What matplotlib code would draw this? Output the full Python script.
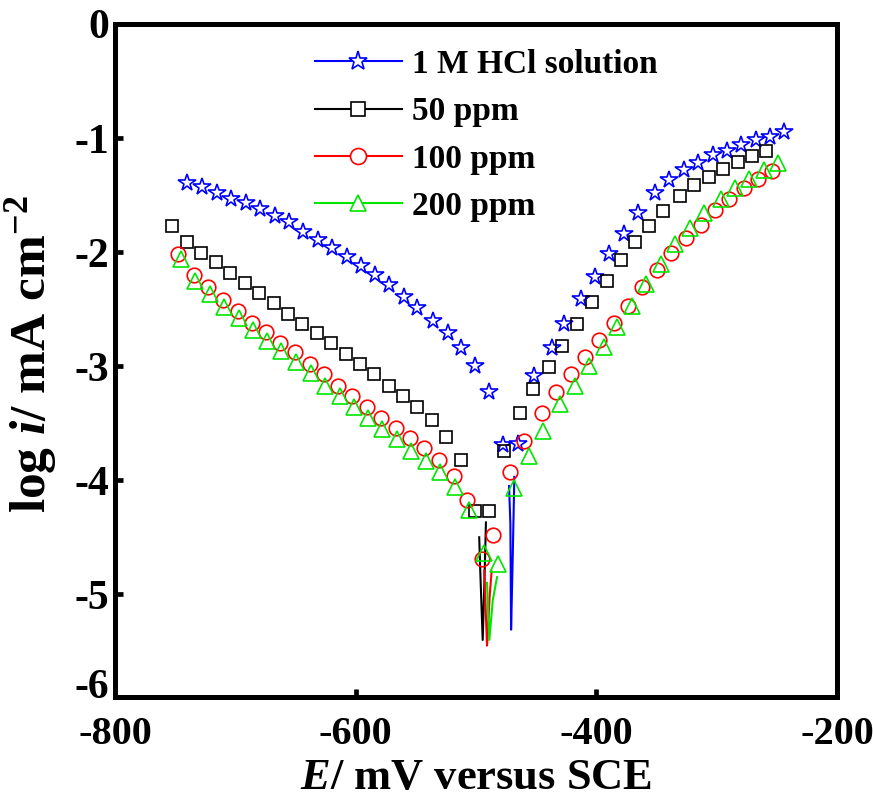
import matplotlib
matplotlib.use('Agg')
import matplotlib.pyplot as plt
from matplotlib.lines import Line2D
from matplotlib.transforms import blended_transform_factory

plt.rcParams['font.family'] = ['Liberation Serif', 'DejaVu Serif']
plt.rcParams['font.weight'] = 'bold'
plt.rcParams['axes.unicode_minus'] = False
plt.rcParams['mathtext.fontset'] = 'custom'
plt.rcParams['mathtext.rm'] = 'Liberation Serif:bold'
plt.rcParams['mathtext.it'] = 'Liberation Serif:italic:bold'
plt.rcParams['mathtext.bf'] = 'Liberation Serif:bold'

# ---------------- data ----------------
labels = ['1 M HCl solution', '50 ppm', '100 ppm', '200 ppm']

E_hcl = [-740.3, -727.3, -715.3, -703.3, -691.1, -679.2, -667.3, -655.6, -643.6, -631.4,
         -619.4, -607.5, -595.3, -583.6, -572.3, -559.8, -548.6, -535.6, -523.6, -512.5,
         -500.8, -488.9, -477.8,
         -465.3, -451.4, -436.4, -427.2, -413.1, -401.4, -389.4, -377.3, -365.3, -351.4,
         -339.4, -327.3, -315.3, -303.3, -291.1, -279.8, -267.5, -255.6, -243.6]
logi_hcl = [-1.39, -1.43, -1.48, -1.53, -1.57, -1.62, -1.68, -1.74, -1.82, -1.89,
            -1.96, -2.04, -2.12, -2.20, -2.29, -2.39, -2.49, -2.60, -2.71, -2.84,
            -3.00, -3.23, -3.69,
            -3.68, -3.09, -2.84, -2.63, -2.41, -2.22, -2.02, -1.84, -1.66, -1.48,
            -1.37, -1.28, -1.22, -1.15, -1.11, -1.06, -1.02, -0.99, -0.95]

E_50 = [-752.8, -740.3, -728.1, -716.1, -704.2, -692.3, -680.6, -668.1, -656.4, -644.4,
        -632.3, -620.3, -608.3, -596.4, -584.4, -572.3, -560.6, -548.6, -536.7, -525.0,
        -512.5, -500.6, -488.9,
        -476.4, -463.3, -452.3, -438.9, -428.3, -416.1, -403.6, -391.4, -379.2, -367.5,
        -356.1, -344.4, -330.6, -318.6, -306.4, -294.4, -282.5, -270.8, -258.9]
logi_50 = [-1.77, -1.91, -2.01, -2.09, -2.18, -2.27, -2.36, -2.45, -2.54, -2.63,
           -2.71, -2.80, -2.89, -2.98, -3.07, -3.17, -3.26, -3.36, -3.47, -3.62,
           -3.82, -4.27, -4.27,
           -3.74, -3.41, -3.20, -3.01, -2.82, -2.63, -2.44, -2.25, -2.07, -1.91,
           -1.77, -1.64, -1.51, -1.41, -1.34, -1.27, -1.21, -1.16, -1.11]

E_100 = [-747.3, -734.2, -722.3, -710.3, -698.1, -686.1, -674.2, -662.5, -650.6, -638.3,
         -626.4, -614.4, -602.8, -590.8, -578.6, -566.7, -555.0, -543.1, -531.1, -518.6,
         -507.1, -495.0, -486.1,
         -471.4, -459.8, -445.3, -433.3, -421.4, -409.2, -397.8, -385.6, -373.6, -361.7,
         -349.4, -337.5, -325.6, -313.3, -301.4, -289.4, -277.3, -265.3, -253.6]
logi_100 = [-2.02, -2.20, -2.31, -2.42, -2.52, -2.62, -2.70, -2.80, -2.88, -2.98,
            -3.07, -3.17, -3.26, -3.36, -3.45, -3.54, -3.63, -3.72, -3.82, -3.96,
            -4.17, -4.69, -4.48,
            -3.93, -3.66, -3.41, -3.23, -3.07, -2.92, -2.77, -2.62, -2.47, -2.31,
            -2.16, -2.01, -1.88, -1.76, -1.63, -1.53, -1.44, -1.36, -1.29]

E_200 = [-745.3, -733.3, -721.4, -709.8, -697.3, -685.6, -673.6, -661.7, -649.4, -637.5,
         -625.6, -613.3, -601.4, -589.8, -577.8, -565.8, -554.2, -541.7, -530.0, -517.5,
         -506.1, -493.6, -481.9,
         -468.1, -455.6, -443.9, -430.0, -418.1, -406.1, -393.9, -382.5, -370.3, -358.3,
         -346.4, -334.7, -322.2, -310.6, -296.7, -284.7, -272.7, -260.6, -248.6]
logi_200 = [-2.06, -2.25, -2.37, -2.48, -2.58, -2.68, -2.78, -2.87, -2.96, -3.06,
            -3.17, -3.26, -3.36, -3.45, -3.55, -3.64, -3.74, -3.83, -3.93, -4.06,
            -4.26, -4.64, -4.73,
            -4.07, -3.79, -3.57, -3.33, -3.17, -3.00, -2.83, -2.66, -2.47, -2.28,
            -2.10, -1.93, -1.79, -1.66, -1.53, -1.44, -1.36, -1.28, -1.22]

# thin curve segments visible around the corrosion potential
E_hcl_ecorr = [-472.5, -471.4, -470.8, -469.5, -468.1]
logi_hcl_ecorr = [-4.05, -4.38, -5.31, -4.70, -3.97]
E_50_ecorr = [-497.3, -496.5, -494.4, -493.0, -491.7]
logi_50_ecorr = [-4.50, -4.77, -5.40, -4.90, -4.37]
E_100_ecorr = [-493.1, -490.8, -488.5, -487.0]
logi_100_ecorr = [-4.79, -5.45, -5.00, -4.80]
E_200_ecorr = [-490.8, -488.9, -486.0, -482.5]
logi_200_ecorr = [-4.90, -5.40, -5.05, -4.85]

x_ticks = [-800, -600, -400, -200]
y_ticks = [-5, -4, -3, -2, -1, 0]

# ---------------- figure ----------------
fig = plt.figure(figsize=(8.73, 8.05), dpi=100)
ax = fig.add_axes([0.1317, 0.1342, 0.827, 0.836])

styles = [
    (E_hcl, logi_hcl, E_hcl_ecorr, logi_hcl_ecorr, '#0000FF', '*', 13),
    (E_50, logi_50, E_50_ecorr, logi_50_ecorr, '#000000', 's', 9),
    (E_100, logi_100, E_100_ecorr, logi_100_ecorr, '#FF0000', 'o', 10.5),
    (E_200, logi_200, E_200_ecorr, logi_200_ecorr, '#00E600', '^', 11),
]

handles = []
for (E, L, Es, Ls, c, m, ms), lab in zip(styles, labels):
    ax.plot(Es, Ls, color=c, lw=1.5, zorder=2)
    ax.plot(E, L, ls='none', marker=m, ms=ms, mfc='none', mec=c, mew=1.2, zorder=3)
    handles.append(Line2D([], [], color=c, lw=1.5, marker=m, ms=ms + 1,
                          mfc='white', mec=c, mew=1.2))

ax.set_xlim(-800, -200)
ax.set_ylim(-5.9, 0)
ax.set_xticks(x_ticks)
ax.set_xticklabels([str(v) for v in x_ticks])
ax.set_yticks(y_ticks)
ax.set_yticklabels([str(v) for v in y_ticks])

for s in ax.spines.values():
    s.set_linewidth(3.6)
ax.tick_params(axis='both', direction='in', length=6, width=3.4, labelsize=29,
               top=False, right=False)
ax.tick_params(axis='x', pad=14)
ax.tick_params(axis='y', labelsize=30, pad=4)
for t in ax.get_xticklabels() + ax.get_yticklabels():
    t.set_fontweight('bold')

# lowest label of the y axis as drawn in the original
tr = blended_transform_factory(ax.transAxes, ax.transData)
ax.text(-0.0075, -5.82, '-6', transform=tr, ha='right', va='center',
        fontsize=30, fontweight='bold')

ax.set_xlabel(r'$\it{E}$/ mV versus SCE', fontsize=32, fontweight='bold', labelpad=3)
ax.set_ylabel(r'log $\it{i}$/ mA cm$^{-2}$', fontsize=37, fontweight='bold')
ax.yaxis.set_label_coords(-0.077, 0.51)

ax.legend(handles, labels, loc='upper left', bbox_to_anchor=(0.277, 0.963),
          frameon=False, prop={'size': 24, 'weight': 'bold'},
          handlelength=2.61, handletextpad=0.3, labelspacing=0.49,
          borderaxespad=0, borderpad=0)

fig.savefig('out.png', dpi=100)
